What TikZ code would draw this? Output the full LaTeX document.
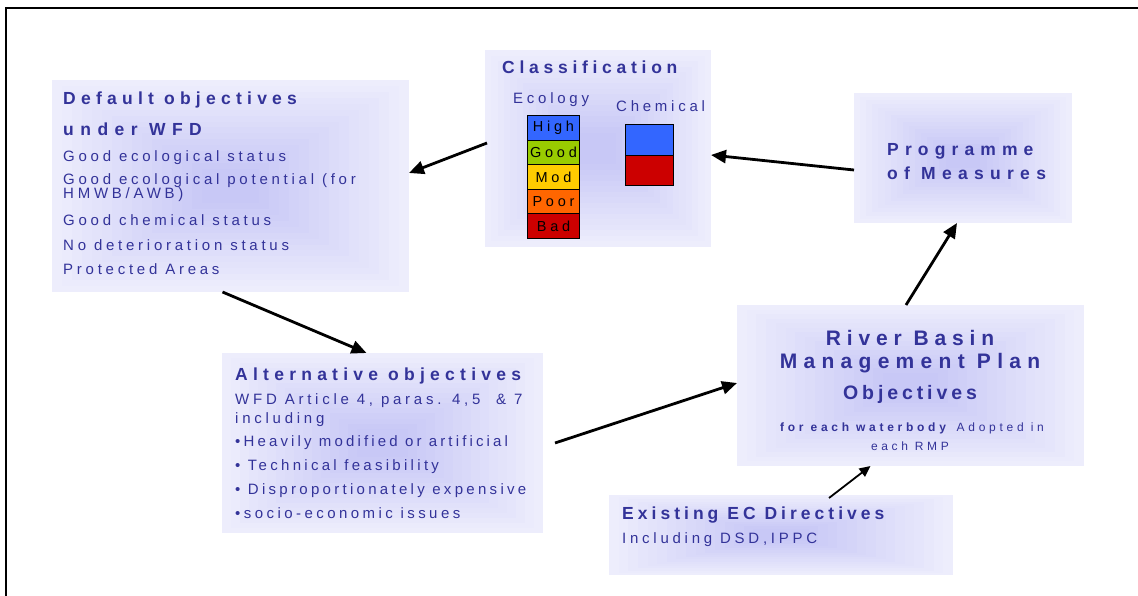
\documentclass[tikz,border=0pt]{standalone}
\usepackage{fontspec}
\setmainfont{Liberation Sans}
\usetikzlibrary{arrows.meta,calc}
\definecolor{tblue}{RGB}{51,51,153}
\definecolor{bgout}{RGB}{237,237,252}
\definecolor{bgin}{RGB}{200,200,246}
\definecolor{cHigh}{RGB}{51,102,255}
\definecolor{cGood}{RGB}{153,204,0}
\definecolor{cMod}{RGB}{255,204,0}
\definecolor{cPoor}{RGB}{255,102,0}
\definecolor{cBad}{RGB}{204,0,0}
\newcommand\boxshade{%
  \foreach \i in {0,...,15}{%
    \pgfmathsetmacro\t{\i*0.028}%
    \pgfmathsetmacro\p{\i/15*100}%
    \fill[bgin!\p!bgout] ($(path picture bounding box.north west)!\t!(path picture bounding box.south east)$) rectangle ($(path picture bounding box.south east)!\t!(path picture bounding box.north west)$);
  }}
\tikzset{
  pbox/.style={inner sep=0pt, outer sep=0pt, anchor=north west, fill=bgout, path picture={\boxshade}},
  hd/.style={font={\fontsize{17.5}{19}\selectfont\bfseries\addfontfeature{LetterSpace=#1}}, text=tblue, inner sep=0pt, anchor=base west, yshift=-6.3pt},
  hd/.default=30,
  bd/.style={font={\fontsize{15}{15}\selectfont\addfontfeature{LetterSpace=#1}}, text=tblue, inner sep=0pt, anchor=base west, yshift=-5.4pt},
  bd/.default=25,
  rbt/.style={text=tblue, inner sep=0pt},
  bar/.style={draw=black, line width=1pt, minimum width=52pt, minimum height=24.6pt, inner sep=0pt, anchor=north west, text=black, font={\fontsize{14.5}{14.5}\selectfont\addfontfeature{LetterSpace=26}}},
  chem/.style={draw=black, line width=1pt, minimum width=48pt, inner sep=0pt, anchor=north west},
  arr/.style={line width=2.8pt, -{Triangle[length=15pt,width=13pt]}},
  thinarr/.style={line width=1.8pt, -{Triangle[length=11pt,width=10pt]}}
}
\begin{document}
\begin{tikzpicture}[x=1pt,y=-1pt]
\useasboundingbox (0,0) rectangle (1138,596);
\draw[line width=2pt] (6,596) -- (6,8) -- (1138,8);

% boxes
\node[pbox, minimum width=357pt, minimum height=212pt] (def) at (52,80) {};
\node[pbox, minimum width=226pt, minimum height=197pt] (cls) at (485,50) {};
\node[pbox, minimum width=218pt, minimum height=130pt] (prog) at (854,93) {};
\node[pbox, minimum width=321pt, minimum height=180pt] (alt) at (222,353) {};
\node[pbox, minimum width=347pt, minimum height=161pt] (rb) at (737,305) {};
\node[pbox, minimum width=344pt, minimum height=80pt] (ex) at (609,495) {};

% default objectives
\node[hd=30] (d1) at (63,98) {Default objectives};
\node[hd=37] (d2) at (63,129.5) {under WFD};
\node[bd] (d3) at (63,156.5) {Good ecological status};
\node[bd] (d4) at (63,179.5) {Good ecological potential (for};
\node[bd] (d5) at (63,193.5) {HMWB/AWB)};
\node[bd] (d6) at (63,220) {Good chemical status};
\node[bd] (d7) at (63,245) {No deterioration status};
\node[bd] (d8) at (63,269) {Protected Areas};

% classification
\node[hd=27] (c1) at (502,67) {Classification};
\node[bd] (c2) at (513,98) {Ecology};
\node[bd] (c3) at (616,106) {Chemical};
\node[bar, fill=cHigh] (b1) at (527,115) {High};
\node[bar, fill=cGood] (b2) at (527,139.6) {Good};
\node[bar, fill=cMod] (b3) at (527,164.2) {Mod};
\node[bar, fill=cPoor] (b4) at (527,188.8) {Poor};
\node[bar, fill=cBad] (b5) at (527,213.4) {Bad};
\node[chem, fill=cHigh, minimum height=31pt] (ch1) at (625,124) {};
\node[chem, fill=cBad, minimum height=30pt] (ch2) at (625,155) {};

% programme
\node[hd=35] (p1) at (887,149) {Programme};
\node[hd=36] (p2) at (887,173) {of Measures};

% alternative
\node[hd=30] (a1) at (235,374) {Alternative objectives};
\node[bd] (a2) at (235,399) {WFD Article 4, paras. 4,5 \ \& 7};
\node[bd] (a3) at (235,418) {including};
\node[bd=21] (a4) at (235,441) {\textbullet Heavily modified or artificial};
\node[bd=22] (a5) at (235,465) {\textbullet\ Technical feasibility};
\node[bd=22] (a6) at (235,489) {\textbullet\ Disproportionately expensive};
\node[bd=23] (a7) at (235,513) {\textbullet socio-economic issues};

% RBMP
\node[rbt, font={\fontsize{21}{23}\selectfont\bfseries\addfontfeature{LetterSpace=28}}] (r1) at (910,338) {River Basin};
\node[rbt, font={\fontsize{21}{23}\selectfont\bfseries\addfontfeature{LetterSpace=30}}] (r2) at (910,363) {Management Plan};
\node[rbt, font={\fontsize{19.5}{22}\selectfont\bfseries\addfontfeature{LetterSpace=20}}] (r3) at (910,394) {Objectives};
\node[rbt, font={\fontsize{12}{13}\selectfont\addfontfeature{LetterSpace=31}}] (r4) at (912,428) {\textbf{for each waterbody} Adopted in};
\node[rbt, font={\fontsize{12}{13}\selectfont\addfontfeature{LetterSpace=30}}] (r5) at (910,446) {each RMP};

% existing
\node[hd=23] (e1) at (622,513) {Existing EC Directives};
\node[bd] (e2) at (622,538) {Including DSD,IPPC};

% arrows
\draw[arr] ([shift={(2pt,5.5pt)}]cls.west) -- ([yshift=13pt]def.east);
\draw[arr] ([yshift=-12pt]prog.west) -- ([yshift=-6.5pt]cls.east);
\draw[arr] ([xshift=-8pt]def.south) -- ([xshift=-16pt]alt.north);
\draw[arr] ([xshift=12pt]alt.east) -- ([yshift=2.5pt]rb.west);
\draw[arr] ([xshift=-4.5pt]rb.north) -- ([xshift=-6pt]prog.south);
\draw[thinarr] ([shift={(48pt,-3pt)}]ex.north) -- ([xshift=-40pt]rb.south);
\end{tikzpicture}
\end{document}
